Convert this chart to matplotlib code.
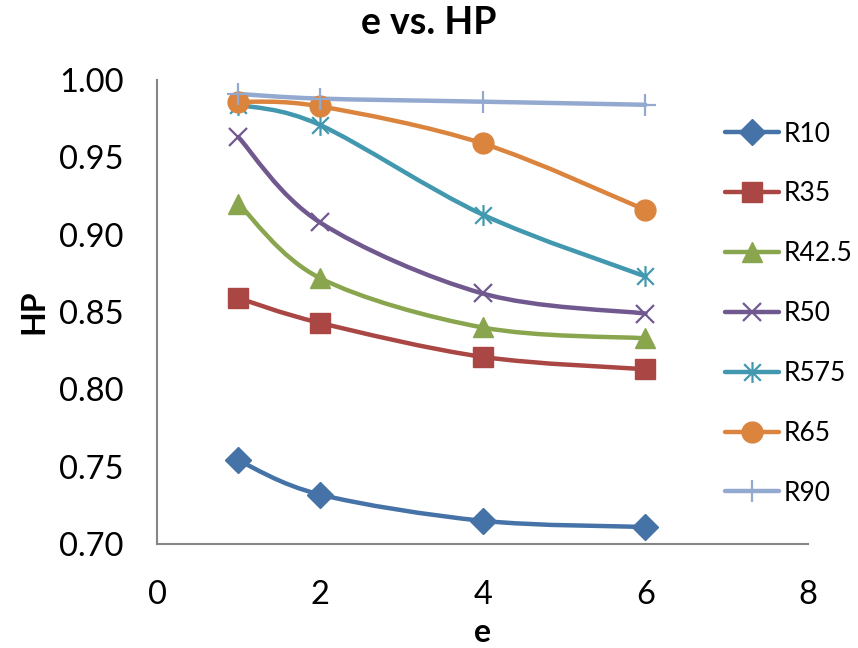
"""
e vs. HP -- smoothed Excel-style line chart, seven R-series over e = 1, 2, 4, 6.
"""
import matplotlib
matplotlib.use("Agg")
import matplotlib.pyplot as plt
from matplotlib.path import Path
from matplotlib.patches import PathPatch
from matplotlib.lines import Line2D

plt.rcParams["font.family"] = ["Lato", "DejaVu Sans"]

e_vals = [1, 2, 4, 6]
names = ["R10", "R35", "R42.5", "R50", "R575", "R65", "R90"]
r10 = [0.754, 0.732, 0.715, 0.711]
r35 = [0.859, 0.843, 0.821, 0.813]
r425 = [0.920, 0.872, 0.840, 0.833]
r50 = [0.963, 0.908, 0.862, 0.849]
r575 = [0.984, 0.971, 0.913, 0.873]
r65 = [0.986, 0.983, 0.959, 0.916]
r90 = [0.991, 0.988, 0.986, 0.984]
series = [r10, r35, r425, r50, r575, r65, r90]

colors = ["#4572A7", "#AA4643", "#89A54E", "#71588F", "#4198AF", "#DB843D", "#93A9CF"]

# Excel-like asterisk marker: vertical bar + diagonal cross
_star = Path([(0, -1), (0, 1), (-0.8, -0.8), (0.8, 0.8), (-0.8, 0.8), (0.8, -0.8)],
             [Path.MOVETO, Path.LINETO] * 3)
styles = [  # marker, size, filled
    ("D", 13, True),
    ("s", 14, True),
    ("^", 14, True),
    ("x", 13, False),
    (_star, 15, False),
    ("o", 15, True),
    ("+", 16, False),
]


def smooth_path(xs, ys):
    """Catmull-Rom style cubic Bezier through the points (Excel 'smoothed line')."""
    pts = list(zip(xs, ys))
    n = len(pts)
    verts = [pts[0]]
    codes = [Path.MOVETO]
    for i in range(n - 1):
        p0 = pts[i - 1] if i > 0 else pts[i]
        p1 = pts[i]
        p2 = pts[i + 1]
        p3 = pts[i + 2] if i + 2 < n else pts[i + 1]
        c1 = (p1[0] + (p2[0] - p0[0]) / 6, p1[1] + (p2[1] - p0[1]) / 6)
        c2 = (p2[0] - (p3[0] - p1[0]) / 6, p2[1] - (p3[1] - p1[1]) / 6)
        verts += [c1, c2, p2]
        codes += [Path.CURVE4] * 3
    return Path(verts, codes)


fig = plt.figure(figsize=(8.58, 6.48), dpi=100)
ax = fig.add_axes([0.183, 0.1605, 0.759, 0.716])

handles = []
for name, ys, c, (mk, ms, filled) in zip(names, series, colors, styles):
    ax.add_patch(PathPatch(smooth_path(e_vals, ys), fill=False, edgecolor=c,
                           lw=3.2, capstyle="round", zorder=2))
    kw = dict(color=c, marker=mk, ms=ms, ls="none", zorder=3)
    if filled:
        kw.update(mec=c, mfc=c)
    else:
        kw.update(mew=1.6)
    ax.plot(e_vals, ys, **kw)
    handles.append(Line2D([], [], color=c, lw=3.2, solid_capstyle="round",
                          label=name, **{k: v for k, v in kw.items() if k not in ("ls", "zorder", "color")}))

ax.set_xlim(0, 8)
ax.set_ylim(0.70, 1.00)
ax.set_xticks([0, 2, 4, 6, 8])
ax.set_yticks([0.70, 0.75, 0.80, 0.85, 0.90, 0.95, 1.00])
ax.set_yticklabels([f"{v:.2f}" for v in ax.get_yticks()])
ax.tick_params(length=0, labelsize=23.5, colors="black")
ax.tick_params(axis="y", pad=24)
ax.tick_params(axis="x", pad=26)
for s in ("top", "right"):
    ax.spines[s].set_visible(False)
for s in ("left", "bottom"):
    ax.spines[s].set_color("#868686")
    ax.spines[s].set_linewidth(1.5)

ax.set_xlabel("e", fontsize=23, fontweight="bold", labelpad=6)
ax.set_ylabel("HP", fontsize=23, fontweight="bold", labelpad=8)
fig.suptitle("e vs. HP", fontsize=27, fontweight="bold", y=0.99)

fig.legend(handles=handles, loc="center left", bbox_to_anchor=(0.833, 0.516),
           frameon=False, fontsize=19, handlelength=2.05, handletextpad=0.15,
           labelspacing=1.32, borderaxespad=0)

fig.savefig("out.png", dpi=100)
